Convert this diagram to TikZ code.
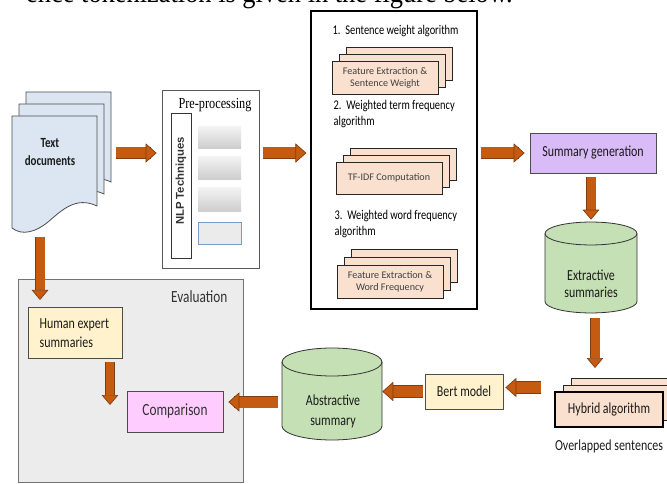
\documentclass[tikz,border=0pt]{standalone}
\usepackage{fontspec}
\setmainfont{Carlito}
\newfontfamily\ftxt{Carlito}[FakeStretch=0.78]
\newfontfamily\fwide{Carlito}
\newfontfamily\fser{Liberation Serif}[FakeStretch=0.8]
\newfontfamily\ftop{Liberation Serif}[FakeStretch=0.9]
\newfontfamily\fari{Liberation Sans}
\usetikzlibrary{arrows.meta,fit,calc}
\definecolor{arrowc}{HTML}{C55A11}
\definecolor{arrowd}{HTML}{843C0C}
\definecolor{docblue}{HTML}{DCE6F2}
\definecolor{peach}{HTML}{F9E0CF}
\definecolor{lav}{HTML}{D9BBF7}
\definecolor{cylgreen}{HTML}{C5E0B4}
\definecolor{lyellow}{HTML}{FFF2CC}
\definecolor{lpink}{HTML}{FFCCFF}
\definecolor{evalgray}{HTML}{ECECEC}
\definecolor{txtc}{HTML}{1A1A1A}
\begin{document}
\begin{tikzpicture}[x=0.75pt,y=-0.75pt,
  lab/.style={font=\ftxt\fontsize{11.5}{14}\selectfont, text=txtc, align=center},
  algtxt/.style={font=\ftxt\fontsize{10}{11.5}\selectfont, text=black, align=left},
  smalltxt/.style={font=\fwide\fontsize{7.6}{9}\selectfont, text=black!75, align=center},
  boxfit/.style={inner sep=0pt, draw=black!80, line width=0.6pt},
  peachbox/.style={draw=black!85, line width=0.7pt, fill=peach},
  docsh/.style={draw=black!70, line width=0.6pt, fill=docblue},
  cylsh/.style={draw=black!80, line width=0.6pt, fill=cylgreen},
  grayblk/.style={draw=none, top color=black!5, bottom color=black!20},
  barrow/.style={draw=arrowc, line width=8.25pt,
     -{Triangle[length=8.25pt, width=14.5pt, fill=arrowc, color=arrowd, line width=0.5pt]},
     preaction={draw=arrowd, -, line width=9.25pt, shorten >=8pt}},
  sarrow/.style={draw=arrowc, line width=6.75pt,
     -{Triangle[length=7.5pt, width=12.5pt, fill=arrowc, color=arrowd, line width=0.5pt]},
     preaction={draw=arrowd, -, line width=7.75pt, shorten >=7.3pt}}
]
\useasboundingbox (0,0) rectangle (667,484);

% cut-off line of page text
\node[anchor=base east, inner sep=0pt, font=\ftop\fontsize{22}{24}\selectfont] (toptext) at (513,3) {ence tokenization is given in the figure below.};

% ---------- Text documents ----------
\foreach \dx/\dy in {14/-24, 7/-12, 0/0}{
  \path[docsh, shift={(\dx,\dy)}] (12,116) -- (97,116) -- (97,206)
     .. controls (76,196) and (62,210) .. (48,222)
     .. controls (36,232) and (22,236) .. (12,228) -- cycle;
}
\node[inner sep=0pt, fit={(12,92)(109,235)}] (docs) {};
\node[font=\ftxt\bfseries\fontsize{10.5}{14}\selectfont, text=txtc, align=center] (doctxt) at (50,152) {Text\\documents};

% ---------- Pre-processing ----------
\node[boxfit, draw=black!65, fill=white, fit={(162,90)(259,268)}] (pre) {};
\node[font=\fser\fontsize{11.5}{12}\selectfont, inner sep=0pt] (pretitle) at (215,105) {Pre-processing};
\node[boxfit, fill=white, fit={(171,113)(191,258)}] (nlp) {};
\node[rotate=90, font=\fari\bfseries\fontsize{8.5}{9}\selectfont, text=black!80] (nlptxt) at (181,181) {NLP Techniques};
\node[grayblk, inner sep=0pt, fit={(198,127)(241,149)}] (g1) {};
\node[grayblk, inner sep=0pt, fit={(198,157)(241,180)}] (g2) {};
\node[grayblk, inner sep=0pt, fit={(198,188)(241,212)}] (g3) {};
\node[inner sep=0pt, fill=black!8, draw={rgb,255:red,122;green,156;blue,198}, line width=0.6pt, fit={(198,222)(241,244)}] (g4) {};

% ---------- Algorithm box ----------
\node[boxfit, draw=black, line width=0.9pt, fill=white, fit={(311,11)(477,309)}] (alg) {};
\node[algtxt, anchor=west] (a1) at (328,31) {1.\ \ Sentence weight algorithm};
\node[algtxt, anchor=west] (a2) at (329,114) {2.\ \ Weighted term frequency\\algorithm};
\node[algtxt, anchor=west] (a3) at (330,224) {3.\ \ Weighted word frequency\\algorithm};

% stack 1
\path[peachbox] (346,47) rectangle (452,80);
\path[peachbox] (339,54) rectangle (445,87);
\node[peachbox, inner sep=0pt, fit={(332,61)(438,94)}] (s1) {};
\node[smalltxt] (s1t) at (s1.center) {Feature Extraction \&\\Sentence Weight};
% stack 2
\path[peachbox] (350,148) rectangle (456,180);
\path[peachbox] (343,155) rectangle (449,187);
\node[peachbox, inner sep=0pt, fit={(336,162)(442,194)}] (s2) {};
\node[smalltxt] (s2t) at (s2.center) {TF-IDF Computation};
% stack 3
\path[peachbox] (351,249) rectangle (457,282);
\path[peachbox] (344,257) rectangle (450,290);
\node[peachbox, inner sep=0pt, fit={(337,265)(443,298)}] (s3) {};
\node[smalltxt] (s3t) at (s3.center) {Feature Extraction \&\\Word Frequency};

% ---------- Summary generation ----------
\node[boxfit, draw=black!70, fill=lav, fit={(530,133)(656,173)}] (sumg) {};
\node[lab] (sumgt) at (sumg.center) {Summary generation};

% ---------- Extractive summaries cylinder ----------
\path[cylsh] (545,233.5) -- (545,301.5) arc[start angle=180, end angle=360, x radius=34.5pt, y radius=8.6pt]
   -- (637,233.5) arc[start angle=0, end angle=180, x radius=34.5pt, y radius=8.6pt] -- cycle;
\draw[draw=black!80, line width=0.6pt] (545,233.5) arc[start angle=180, end angle=360, x radius=34.5pt, y radius=8.6pt];
\node[inner sep=0pt, fit={(545,222)(637,313)}] (ext) {};
\node[lab, font=\ftxt\fontsize{11.5}{12.8}\selectfont] (extt) at (591,284) {Extractive\\summaries};

% ---------- Hybrid algorithm ----------
\path[peachbox] (571,378) rectangle (679,413);
\path[peachbox] (563,385) rectangle (671,420);
\node[peachbox, draw=black, line width=1.3pt, inner sep=0pt, fit={(555,392)(663,427)}] (hyb) {};
\node[lab] (hybt) at (hyb.center) {Hybrid algorithm};
\node[lab] (ovl) at (609,446) {Overlapped sentences};

% ---------- Bert model ----------
\node[boxfit, draw=black!70, fill=lyellow, fit={(425,374)(503,409)}] (bert) {};
\node[lab] (bertt) at (bert.center) {Bert model};

% ---------- Abstractive summary cylinder ----------
\path[cylsh] (282,362) -- (282,426) arc[start angle=180, end angle=360, x radius=37.5pt, y radius=10.5pt]
   -- (382,362) arc[start angle=0, end angle=180, x radius=37.5pt, y radius=10.5pt] -- cycle;
\draw[draw=black!80, line width=0.6pt] (282,362) arc[start angle=180, end angle=360, x radius=37.5pt, y radius=10.5pt];
\node[inner sep=0pt, fit={(282,348)(382,440)}] (abs) {};
\node[lab, font=\ftxt\fontsize{11.5}{15}\selectfont] (abst) at (333,411) {Abstractive\\summary};

% ---------- Evaluation ----------
\node[inner sep=0pt, draw=black!55, line width=0.6pt, fill=evalgray, fit={(18,279)(243,482)}] (eval) {};
\node[anchor=east, font=\ftxt\fontsize{12.8}{14}\selectfont, text=black!80] (evalt) at (232,297) {Evaluation};
\node[boxfit, draw=black!70, fill=lyellow, fit={(28,307)(122,358)}] (hum) {};
\node[lab, align=left, anchor=west, font=\ftxt\fontsize{11.5}{14.3}\selectfont] (humt) at (35,333) {Human expert\\summaries};
\node[boxfit, draw=black!70, fill=lpink, fit={(127,391)(223,432)}] (cmp) {};
\node[font=\ftxt\fontsize{12.8}{14}\selectfont, text=black!80] (cmpt) at (cmp.center) {Comparison};

% ---------- Arrows ----------
\coordinate (ddown) at (40,300);
\coordinate (hcend) at (110,405);
\draw[barrow, shorten <=5.25pt, shorten >=3.75pt] (docs.east |- sumg.west) -- (pre.west |- sumg.west);
\draw[barrow, shorten <=3pt, shorten >=3pt] (pre.east |- sumg.west) -- (alg.west |- sumg.west);
\draw[barrow, shorten <=2.25pt, shorten >=3.75pt] (alg.east |- sumg.west) -- (sumg.west);
\draw[sarrow, shorten <=3pt, shorten >=1.5pt] (sumg.south -| ext.north) -- (ext.north);
\draw[sarrow, shorten <=3.75pt] ([xshift=3pt]ext.south) -- ([xshift=3pt]ext.south |- 0,368);
\draw[barrow, shorten <=9.75pt, shorten >=1.5pt] ([yshift=3pt]hyb.west |- bert.east) -- ([yshift=3pt]bert.east);
\draw[barrow, shorten <=1.5pt] (bert.west) -- (bert.west -| abs.east);
\draw[barrow, shorten <=3pt, shorten >=3.75pt] ([yshift=-6pt]abs.west) -- ([yshift=-6pt]abs.west -| cmp.east);
\draw[sarrow, shorten <=1.5pt] (ddown |- docs.south) -- (ddown);
\draw[sarrow, line width=5.5pt, preaction={draw=arrowd, -, line width=6.3pt, shorten >=7.3pt}, shorten <=3pt] (hcend |- hum.south) -- (hcend);
\end{tikzpicture}
\end{document}
